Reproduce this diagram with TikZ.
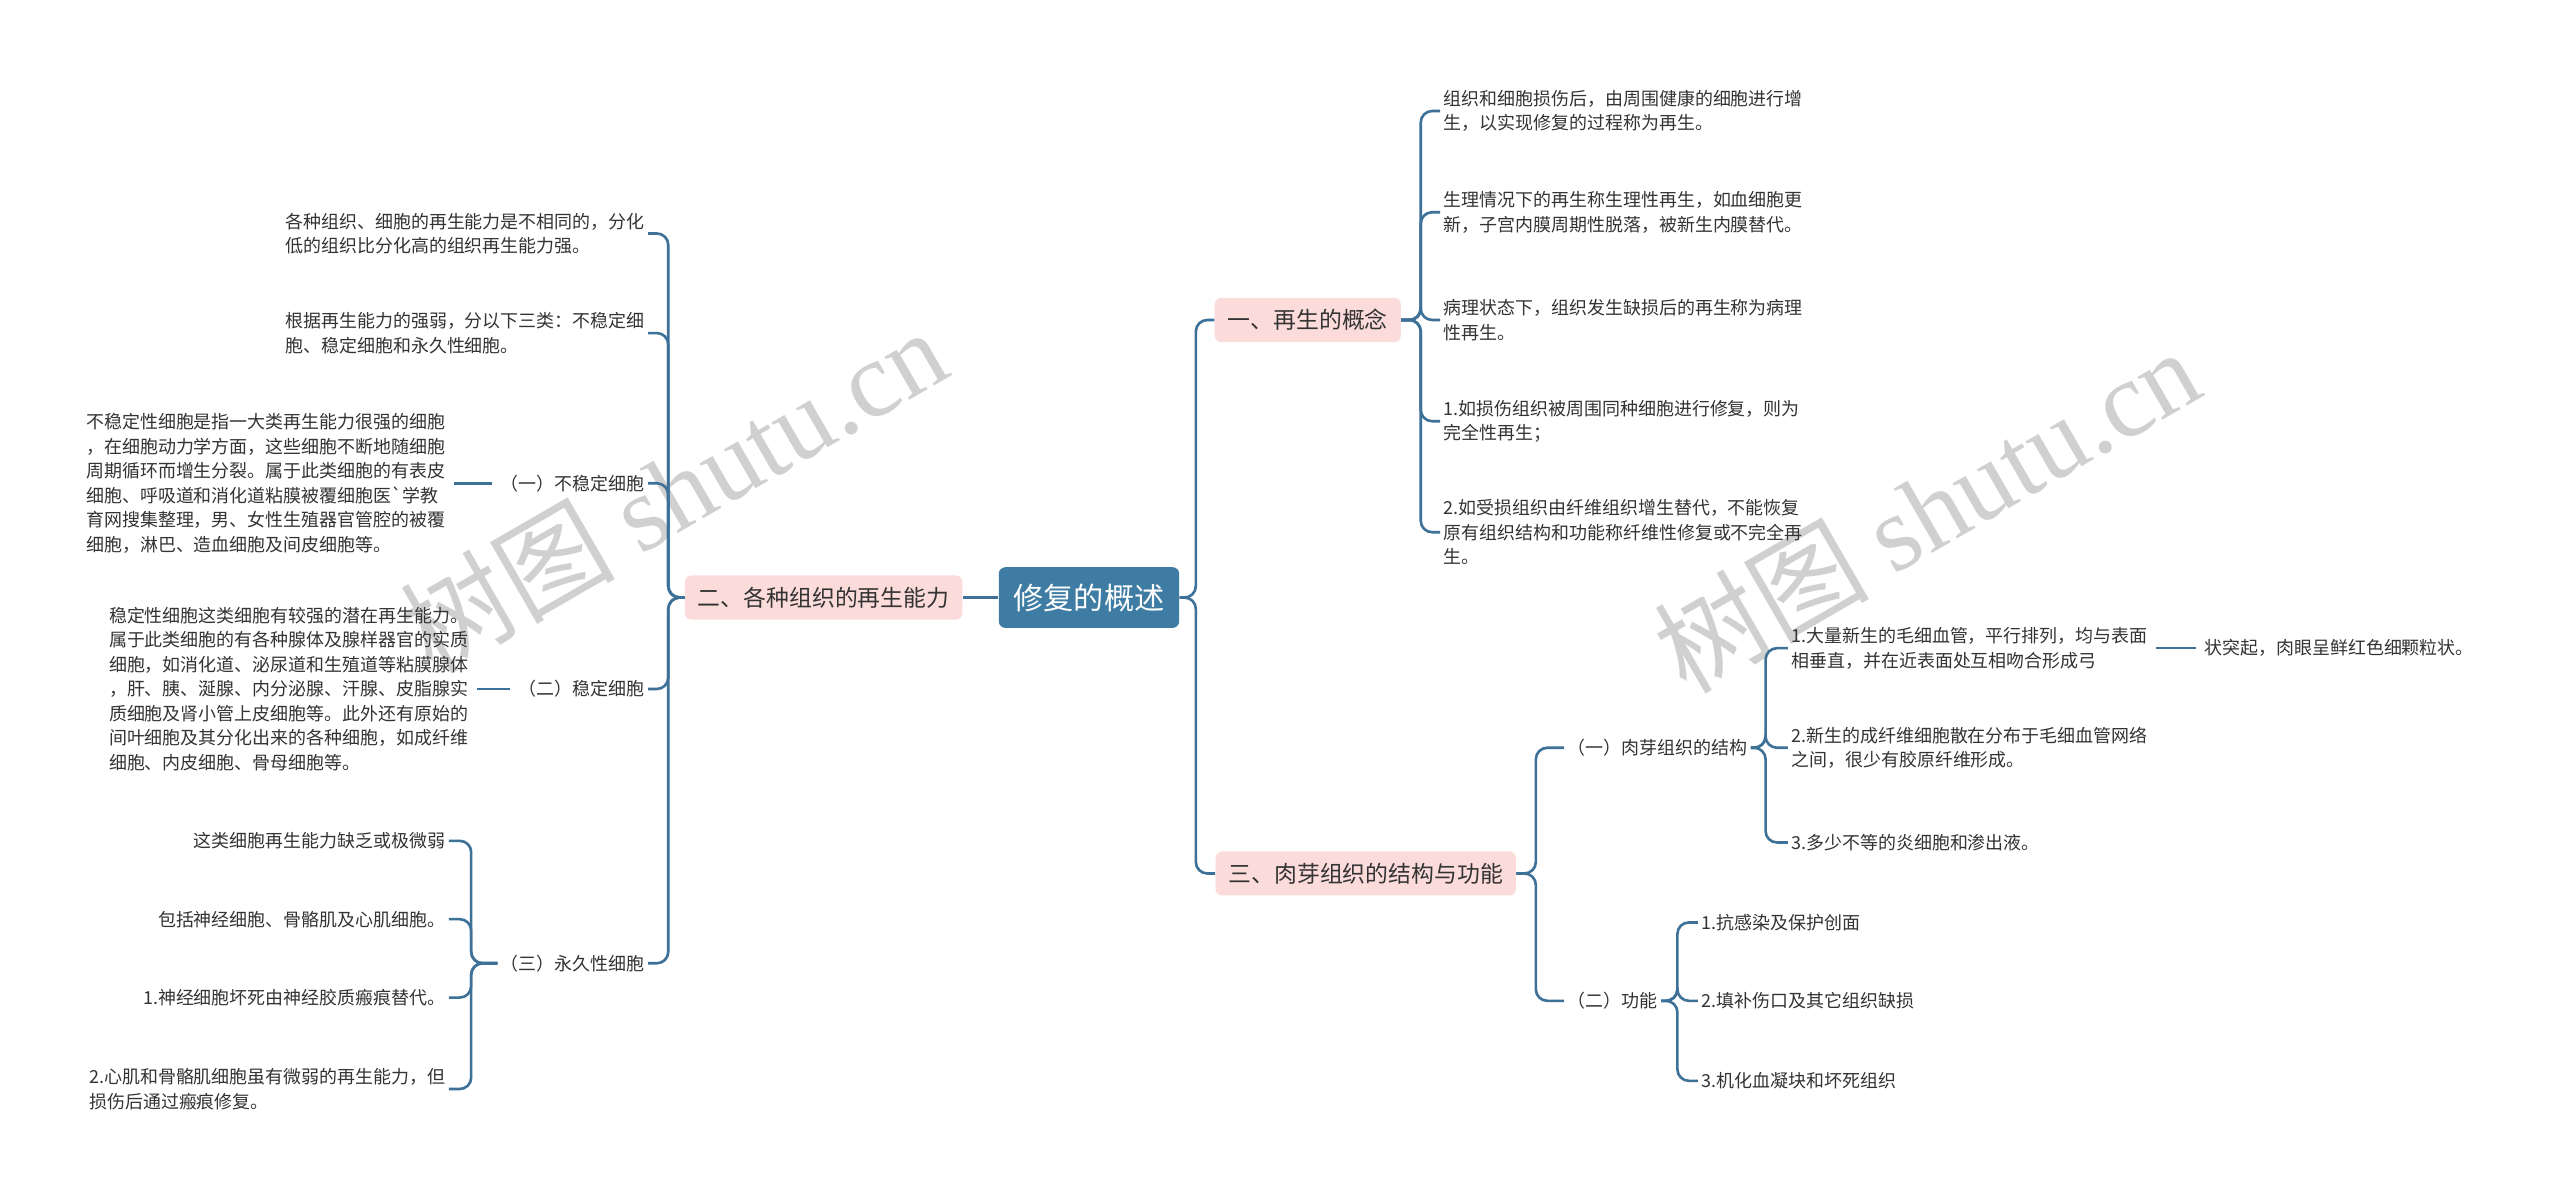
\documentclass[tikz,border=0pt]{standalone}
\usepackage{fontspec}
\setmainfont{Noto Sans CJK SC}
\newfontfamily\wmlatin{Liberation Serif}

\definecolor{linkblue}{RGB}{62,113,152}
\definecolor{rootblue}{RGB}{62,124,163}
\definecolor{branchpink}{RGB}{251,220,218}
\definecolor{leaftext}{RGB}{51,51,51}
\definecolor{markgray}{RGB}{208,208,208}

\begin{document}
\begin{tikzpicture}[x=1pt, y=-1pt,
    root/.style={fill=rootblue, text=white, rounded corners=4pt, inner xsep=9pt, inner ysep=10pt, font=\fontsize{18.5}{22}\selectfont},
    branch/.style={fill=branchpink, text=leaftext, rounded corners=4pt, inner xsep=8pt, inner ysep=7pt, font=\fontsize{14}{17}\selectfont},
    leaf/.style={text=leaftext, align=left, inner sep=2pt, font=\fontsize{11}{15}\selectfont},
    wmark/.style={text=markgray, rotate=30, font=\fontsize{66}{74}\selectfont},
    link/.style={draw=linkblue, line width=1.6pt, rounded corners=7pt},
    forkright/.style={link, to path={-- ++(#1,0) |- (\tikztotarget)}},
    forkleft/.style={link, to path={-- ++(-#1,0) |- (\tikztotarget)}},
    straight/.style={link, shorten <=3pt, shorten >=3pt}]

    % Page and watermarks
    \fill[white] (0,0) rectangle (1568,735);
    \useasboundingbox (0,0) rectangle (1568,735);
    \node[wmark] (wm1) at (412,300) {树图 {\wmlatin shutu.cn}};
    \node[wmark] (wm2) at (1180,312) {树图 {\wmlatin shutu.cn}};

    % Centre and main branches
    \node[root] (root) at (667,366) {修复的概述};
    \node[branch] (b2) at (504.5,366) {二、各种组织的再生能力};
    \node[branch] (b1) at (801,196) {一、再生的概念};
    \node[branch] (b3) at (836.5,535) {三、肉芽组织的结构与功能};

    % Left side
    \node[leaf, anchor=east] (l1) at (397,143) {各种组织、细胞的再生能力是不相同的，分化\\低的组织比分化高的组织再生能力强。};
    \node[leaf, anchor=east] (l2) at (397,204) {根据再生能力的强弱，分以下三类：不稳定细\\胞、稳定细胞和永久性细胞。};
    \node[leaf, anchor=east] (u1) at (397,296) {（一）不稳定细胞};
    \node[leaf, anchor=east] (u2) at (397,422) {（二）稳定细胞};
    \node[leaf, anchor=east] (u3) at (397,590) {（三）永久性细胞};

    \node[leaf, anchor=east] (u1t) at (275,296) {不稳定性细胞是指一大类再生能力很强的细胞\\，在细胞动力学方面，这些细胞不断地随细胞\\周期循环而增生分裂。属于此类细胞的有表皮\\细胞、呼吸道和消化道粘膜被覆细胞医\textasciigrave 学教\\育网搜集整理，男、女性生殖器官管腔的被覆\\细胞，淋巴、造血细胞及间皮细胞等。};
    \node[leaf, anchor=east] (u2t) at (289,422) {稳定性细胞这类细胞有较强的潜在再生能力。\\属于此类细胞的有各种腺体及腺样器官的实质\\细胞，如消化道、泌尿道和生殖道等粘膜腺体\\，肝、胰、涎腺、内分泌腺、汗腺、皮脂腺实\\质细胞及肾小管上皮细胞等。此外还有原始的\\间叶细胞及其分化出来的各种细胞，如成纤维\\细胞、内皮细胞、骨母细胞等。};

    \node[leaf, anchor=east] (p1) at (275,515) {这类细胞再生能力缺乏或极微弱};
    \node[leaf, anchor=east] (p2) at (275,563) {包括神经细胞、骨骼肌及心肌细胞。};
    \node[leaf, anchor=east] (p3) at (275,611) {1.神经细胞坏死由神经胶质瘢痕替代。};
    \node[leaf, anchor=east] (p4) at (275,667) {2.心肌和骨骼肌细胞虽有微弱的再生能力，但\\损伤后通过瘢痕修复。};

    % Right side, upper
    \node[leaf, anchor=west] (r1) at (882,68) {组织和细胞损伤后，由周围健康的细胞进行增\\生，以实现修复的过程称为再生。};
    \node[leaf, anchor=west] (r2) at (882,130) {生理情况下的再生称生理性再生，如血细胞更\\新，子宫内膜周期性脱落，被新生内膜替代。};
    \node[leaf, anchor=west] (r3) at (882,196) {病理状态下，组织发生缺损后的再生称为病理\\性再生。};
    \node[leaf, anchor=west] (r4) at (882,258) {1.如损伤组织被周围同种细胞进行修复，则为\\完全性再生；};
    \node[leaf, anchor=west] (r5) at (882,326) {2.如受损组织由纤维组织增生替代，不能恢复\\原有组织结构和功能称纤维性修复或不完全再\\生。};

    % Right side, lower
    \node[leaf, anchor=west] (s1) at (958,458) {（一）肉芽组织的结构};
    \node[leaf, anchor=west] (s2) at (958,613) {（二）功能};

    \node[leaf, anchor=west] (g1) at (1095,397) {1.大量新生的毛细血管，平行排列，均与表面\\相垂直，并在近表面处互相吻合形成弓};
    \node[leaf, anchor=west] (g2) at (1095,458) {2.新生的成纤维细胞散在分布于毛细血管网络\\之间，很少有胶原纤维形成。};
    \node[leaf, anchor=west] (g3) at (1095,516) {3.多少不等的炎细胞和渗出液。};
    \node[leaf, anchor=west] (g1t) at (1348,397) {状突起，肉眼呈鲜红色细颗粒状。};

    \node[leaf, anchor=west] (f1) at (1040,565) {1.抗感染及保护创面};
    \node[leaf, anchor=west] (f2) at (1040,613) {2.填补伤口及其它组织缺损};
    \node[leaf, anchor=west] (f3) at (1040,662) {3.机化血凝块和坏死组织};

    % Connectors
    \draw[link] (root.west) -- (b2.east);
    \foreach \n in {b1,b3} \draw[forkright=10] (root.east) to (\n.west);
    \foreach \n in {l1,l2,u1,u2,u3} \draw[forkleft=10] (b2.west) to (\n.east);
    \foreach \n in {p1,p2,p3,p4} \draw[forkleft=16] (u3.west) to (\n.east);
    \draw[straight] (u1.west) -- (u1t.east);
    \draw[straight] (u2.west) -- (u2t.east);
    \foreach \n in {r1,r2,r3,r4,r5} \draw[forkright=12] (b1.east) to (\n.west);
    \foreach \n in {s1,s2} \draw[forkright=12] (b3.east) to (\n.west);
    \foreach \n in {g1,g2,g3} \draw[forkright=9] (s1.east) to (\n.west);
    \foreach \n in {f1,f2,f3} \draw[forkright=10] (s2.east) to (\n.west);
    \draw[straight] (g1.east) -- (g1t.west);

\end{tikzpicture}
\end{document}
